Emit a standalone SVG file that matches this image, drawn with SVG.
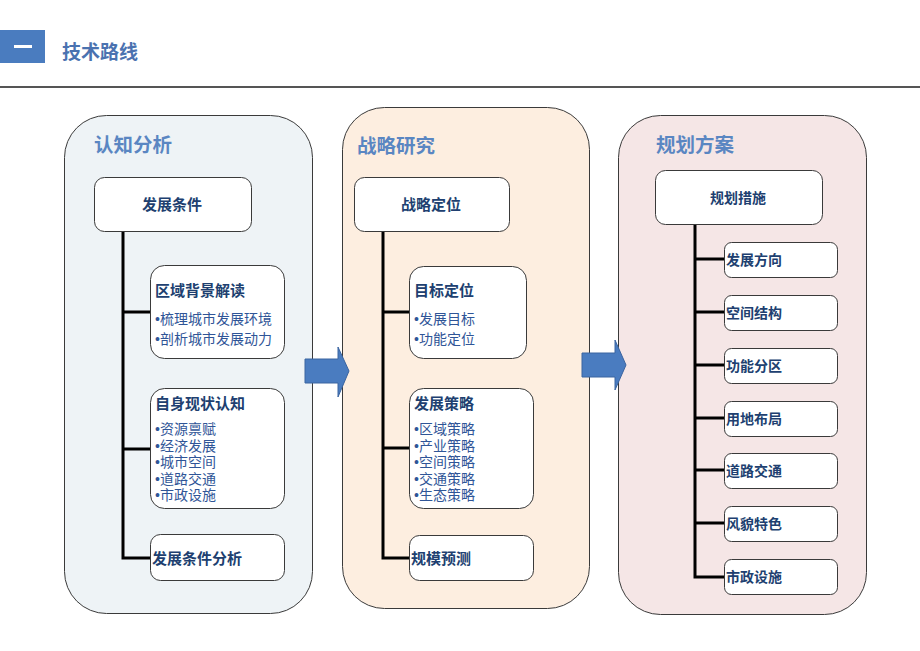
<svg xmlns="http://www.w3.org/2000/svg" width="920" height="651" viewBox="0 0 920 651">
<style>
text{font-family:"Noto Sans CJK SC","Noto Sans CJK TC",sans-serif}
.panel{stroke:#3a3a3a;stroke-width:1}
.box{fill:#ffffff;stroke:#3a3a3a;stroke-width:1}
.ptitle{font-size:19.5px;font-weight:bold;fill:#5a86c2}
.btitle{font-size:15px;font-weight:bold;fill:#203f70}
.stitle{font-size:14px;font-weight:bold;fill:#203f70}
.item{font-family:"Liberation Sans","Noto Sans CJK SC",sans-serif;font-size:14px;fill:#2f5597}
.con{stroke:#000;stroke-width:3;fill:none}
.arrow{fill:#4a7cc0;stroke:#3a64a0;stroke-width:1}
</style>
<rect width="920" height="651" fill="#ffffff"/>
<g id="header">
<rect x="0" y="30" width="45" height="33" fill="#4a7cbf"/>
<rect x="14" y="45" width="18" height="3" fill="#ffffff"/>
<text x="62" y="59" style="font-size:19px;font-weight:bold;fill:#4a72b0">技术路线</text>
<rect x="0" y="86" width="920" height="2" fill="#555"/>
</g>
<g id="panel1">
<rect class="panel" x="64.5" y="115.5" width="248" height="498" rx="42" fill="#eef3f6"/>
<text class="ptitle" x="94" y="152">认知分析</text>
</g>
<g id="panel2">
<rect class="panel" x="342.5" y="107.5" width="247" height="501" rx="42" fill="#fdeee0"/>
<text class="ptitle" x="357" y="153">战略研究</text>
</g>
<g id="panel3">
<rect class="panel" x="618.5" y="115.5" width="248" height="499" rx="42" fill="#f5e6e6"/>
<text class="ptitle" x="656" y="152">规划方案</text>
</g>
<g id="connectors">
<path class="con" d="M123 231 V558 H150 M123 312 H150 M123 449 H150"/>
<path class="con" d="M383 231 V558 H409 M383 312 H409 M383 448 H409"/>
<path class="con" d="M695 224 V577 H724 M695 259 H724 M695 312 H724 M695 365 H724 M695 418 H724 M695 470 H724 M695 523 H724"/>
<path class="arrow" d="M305 359 H338 V347 L349 371 L338 397 V383 H305 Z"/>
<path class="arrow" d="M582 353 H615 V340 L626 365 L615 390 V377 H582 Z"/>
</g>
<g id="n-fazhantiaojian">
<rect class="box" x="94.5" y="177.5" width="157" height="54" rx="10"/>
<text class="btitle" x="172" y="210" text-anchor="middle">发展条件</text>
</g>
<g id="n-quyu">
<rect class="box" x="150.5" y="265.5" width="134" height="93" rx="14"/>
<text class="btitle" x="155" y="296">区域背景解读</text>
<text class="item" x="155" y="324">•梳理城市发展环境</text>
<text class="item" x="155" y="344">•剖析城市发展动力</text>
</g>
<g id="n-zishen">
<rect class="box" x="150.5" y="388.5" width="134" height="120" rx="14"/>
<text class="btitle" x="155" y="409">自身现状认知</text>
<text class="item" x="155" y="434">•资源禀赋</text>
<text class="item" x="155" y="450.5">•经济发展</text>
<text class="item" x="155" y="467">•城市空间</text>
<text class="item" x="155" y="483.5">•道路交通</text>
<text class="item" x="155" y="500">•市政设施</text>
</g>
<g id="n-tiaojianfenxi">
<rect class="box" x="150.5" y="534.5" width="134" height="46" rx="10"/>
<text class="btitle" x="152" y="564">发展条件分析</text>
</g>
<g id="n-zhanluedingwei">
<rect class="box" x="354.5" y="177.5" width="155" height="54" rx="10"/>
<text class="btitle" x="431" y="210" text-anchor="middle">战略定位</text>
</g>
<g id="n-mubiao">
<rect class="box" x="409.5" y="266.5" width="117" height="92" rx="14"/>
<text class="btitle" x="414" y="296">目标定位</text>
<text class="item" x="414" y="324">•发展目标</text>
<text class="item" x="414" y="344">•功能定位</text>
</g>
<g id="n-celue">
<rect class="box" x="409.5" y="388.5" width="124" height="120" rx="14"/>
<text class="btitle" x="414" y="409">发展策略</text>
<text class="item" x="414" y="434">•区域策略</text>
<text class="item" x="414" y="450.5">•产业策略</text>
<text class="item" x="414" y="467">•空间策略</text>
<text class="item" x="414" y="483.5">•交通策略</text>
<text class="item" x="414" y="500">•生态策略</text>
</g>
<g id="n-guimo">
<rect class="box" x="409.5" y="535.5" width="124" height="45" rx="10"/>
<text class="btitle" x="411" y="564">规模预测</text>
</g>
<g id="n-cuoshi">
<rect class="box" x="655.5" y="170.5" width="167" height="54" rx="10"/>
<text class="stitle" x="738" y="203" text-anchor="middle">规划措施</text>
</g>
<g id="n-fangxiang">
<rect class="box" x="724.5" y="242.5" width="113" height="35" rx="7"/>
<text class="stitle" x="726" y="265">发展方向</text>
</g>
<g id="n-jiegou">
<rect class="box" x="724.5" y="295.5" width="113" height="35" rx="7"/>
<text class="stitle" x="726" y="318">空间结构</text>
</g>
<g id="n-fenqu">
<rect class="box" x="724.5" y="348.5" width="113" height="35" rx="7"/>
<text class="stitle" x="726" y="371">功能分区</text>
</g>
<g id="n-buju">
<rect class="box" x="724.5" y="401.5" width="113" height="35" rx="7"/>
<text class="stitle" x="726" y="424">用地布局</text>
</g>
<g id="n-jiaotong">
<rect class="box" x="724.5" y="453.5" width="113" height="35" rx="7"/>
<text class="stitle" x="726" y="476">道路交通</text>
</g>
<g id="n-fengmao">
<rect class="box" x="724.5" y="506.5" width="113" height="35" rx="7"/>
<text class="stitle" x="726" y="529">风貌特色</text>
</g>
<g id="n-shizheng">
<rect class="box" x="724.5" y="559.5" width="113" height="35" rx="7"/>
<text class="stitle" x="726" y="582">市政设施</text>
</g>
</svg>
